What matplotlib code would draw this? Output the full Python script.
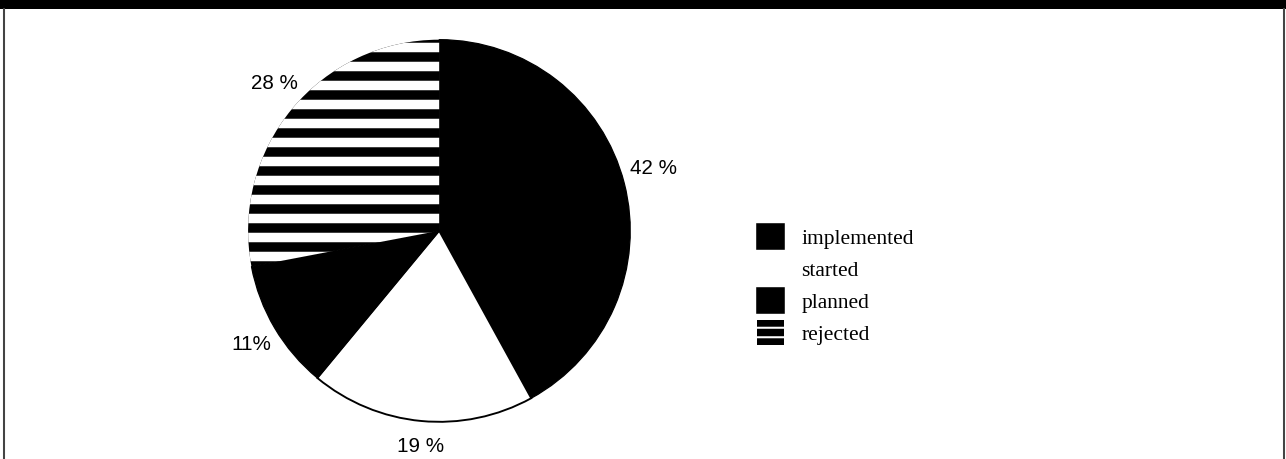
import matplotlib
matplotlib.use("Agg")
import matplotlib.pyplot as plt
import matplotlib.patches as mpatches
import matplotlib.transforms as mtransforms
from matplotlib.lines import Line2D

# data
categories = ["implemented", "started", "planned", "rejected"]
shares = [42, 19, 11, 28]
pct_labels = ["42 %", "19 %", "11%", "28 %"]
colors = ["black", "white", "black", "black"]
hatches = ["", "", "", "-"]

W, H, DPI = 1286, 459, 114
plt.rcParams["hatch.color"] = "white"
plt.rcParams["hatch.linewidth"] = 6.0

fig = plt.figure(figsize=((W + 0.5) / DPI, (H + 0.5) / DPI), dpi=DPI)

# pie centre (439, 231) px from top-left, radius 191 px
cx, cy, r = 439, 231, 191
ax = fig.add_axes([(cx - r) / W, (H - cy - r) / H, 2 * r / W, 2 * r / H])
wedges, texts = ax.pie(shares, colors=colors, hatch=hatches, startangle=90,
                       counterclock=False, labels=pct_labels, labeldistance=1.15,
                       textprops=dict(family="Liberation Sans", fontsize=13))
for w, c in zip(wedges, colors):
    if c == "white":
        w.set_edgecolor("black")
        w.set_linewidth(1.2)
    elif not w.get_hatch():
        w.set_edgecolor("black")
        w.set_linewidth(0.8)

# small nudges (pixels, right / up) so labels sit where the original has them
nudges = [(1, 8), (2, 4), (1, -1), (5, 8)]
for t, (dx, dy) in zip(texts, nudges):
    t.set_ha("center")
    t.set_va("center")
    t.set_transform(mtransforms.offset_copy(t.get_transform(), fig=fig,
                                            x=dx, y=dy, units="dots"))
ax.set_xlim(-1, 1)
ax.set_ylim(-1, 1)
ax.set_aspect("equal")

# legend
plt.rcParams["hatch.linewidth"] = 1.3
handles = [
    mpatches.Patch(facecolor="black", edgecolor="black"),
    mpatches.Patch(facecolor="white", edgecolor="none"),
    mpatches.Patch(facecolor="black", edgecolor="black"),
    mpatches.Patch(facecolor="black", hatch="--", linewidth=0),
]
fig.legend(handles, categories, loc="upper left",
           bbox_to_anchor=(757 / W, 1 - 224 / H), frameon=False,
           borderpad=0, borderaxespad=0, handlelength=1.25, handleheight=1.45,
           handletextpad=0.8, labelspacing=0.3,
           prop=dict(family="Liberation Serif", size=13.6))

# frame: black band on top, thin side rules
fig.add_artist(mpatches.Rectangle((0, 1 - 9 / H), 1, 9 / H, transform=fig.transFigure,
                                  facecolor="black", edgecolor="none"))
for x in (3.5 / W, 1284 / W):
    fig.add_artist(Line2D([x, x], [0, 1 - 9 / H], transform=fig.transFigure,
                          color="#444444", linewidth=1.3))

fig.savefig("out.png", dpi=DPI, facecolor="white")
